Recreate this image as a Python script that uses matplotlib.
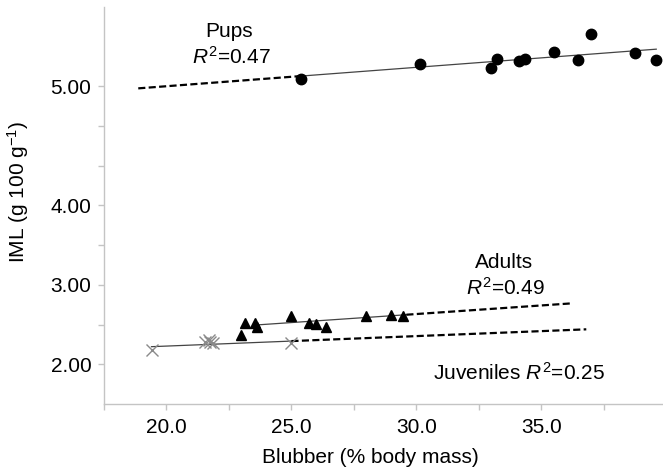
import matplotlib
matplotlib.use("Agg")
import matplotlib.pyplot as plt
import numpy as np

plt.rcParams['font.family'] = ['Liberation Sans', 'DejaVu Sans']
plt.rcParams['mathtext.fontset'] = 'custom'
plt.rcParams['mathtext.rm'] = 'Liberation Sans'
plt.rcParams['mathtext.it'] = 'Liberation Sans:italic'

# blubber (% body mass) vs IML (g 100 g-1)
pups_x = [25.37, 30.13, 33.0, 33.24, 34.1, 34.33, 35.49, 36.47, 37.0, 38.73, 39.6]
pups_y = [5.06, 5.186, 5.157, 5.23, 5.213, 5.23, 5.29, 5.217, 5.44, 5.283, 5.223]

adults_x = [23.0, 23.13, 23.53, 23.63, 25.0, 25.7, 26.0, 26.37, 27.97, 28.97, 29.47]
adults_y = [2.369, 2.516, 2.516, 2.47, 2.61, 2.52, 2.51, 2.47, 2.61, 2.62, 2.61]

juv_x = [19.4, 21.55, 21.7, 21.85, 21.75, 25.0]
juv_y = [2.18, 2.28, 2.30, 2.27, 2.285, 2.265]

# regression lines: (start, end of data range, end of extrapolation)
pups_fit_x = [18.87, 25.37, 39.6]
pups_fit_y = [4.983, 5.086, 5.312]
adults_fit_x = [23.6, 29.6, 36.26]
adults_fit_y = [2.495, 2.624, 2.768]
juv_fit_x = [19.4, 25.0, 36.8]
juv_fit_y = [2.2215, 2.292, 2.44]

# the printed y axis is not linear: 2->3->4 take two tick steps each, 4->5 three
knots_y = [0.0, 4.0, 10.0]
knots_u = [-4.0, 4.0, 22.0]


def fwd(y):
    return np.interp(y, knots_y, knots_u, left=np.nan, right=np.nan)


def inv(u):
    return np.interp(u, knots_u, knots_y, left=np.nan, right=np.nan)


fig = plt.figure(figsize=(6.63, 4.71), dpi=100)
ax = fig.add_axes([0.1569, 0.1423, 0.8431, 0.843])
ax.set_yscale('function', functions=(fwd, inv))

ax.plot(pups_x, pups_y, 'o', color='black', markersize=7.5, clip_on=False, zorder=3)
ax.plot(adults_x, adults_y, '^', color='black', markersize=7.5, zorder=3)
ax.plot(juv_x, juv_y, 'x', color='#8a8a8a', markersize=8, markeredgewidth=1.0, zorder=3)

dash = (0, (3.2, 1.5))
solid_kw = dict(color='#444444', lw=0.9, zorder=2)
dash_kw = dict(color='black', lw=1.6, linestyle=dash, zorder=2)

# pups: extrapolated to the left, the others to the right
ax.plot(pups_fit_x[:2], pups_fit_y[:2], **dash_kw)
ax.plot(pups_fit_x[1:], pups_fit_y[1:], **solid_kw)
ax.plot(adults_fit_x[:2], adults_fit_y[:2], **solid_kw)
ax.plot(adults_fit_x[1:], adults_fit_y[1:], **dash_kw)
ax.plot(juv_fit_x[:2], juv_fit_y[:2], **solid_kw)
ax.plot(juv_fit_x[1:], juv_fit_y[1:], **dash_kw)

ax.set_xlim(17.5, 39.87)
ax.set_ylim(1.5, 5 + 2 / 3)

ax.set_xticks([20, 25, 30, 35])
ax.set_xticklabels(['20.0', '25.0', '30.0', '35.0'])
ax.set_xticks([17.5, 22.5, 27.5, 32.5, 37.5], minor=True)
ax.set_yticks([2, 3, 4, 5])
ax.set_yticklabels(['2.00', '3.00', '4.00', '5.00'])
ax.set_yticks([2.5, 3.5, 4 + 1 / 3, 4 + 2 / 3], minor=True)

for s in ['top', 'right']:
    ax.spines[s].set_visible(False)
for s in ['left', 'bottom']:
    ax.spines[s].set_color('#c4c4c4')
    ax.spines[s].set_linewidth(1.0)
ax.tick_params(which='both', length=4, width=1.0, color='#c4c4c4', labelsize=15)
ax.tick_params(axis='y', which='both', pad=5)
ax.tick_params(axis='x', which='both', pad=6)

ax.set_xlabel('Blubber (% body mass)', fontsize=15)
ax.set_ylabel(r'IML (g 100 g$^{-1}$)', fontsize=15)
ax.xaxis.set_label_coords(0.477, -0.112)
ax.yaxis.set_label_coords(-0.13, 0.534)

ax.text(22.5, 5.46, 'Pups', fontsize=15, ha='center', va='center')
ax.text(22.6, 5.25, r'$R^2$=0.47', fontsize=15, ha='center', va='center')
ax.text(33.49, 3.285, 'Adults', fontsize=15, ha='center', va='center')
ax.text(33.56, 2.957, r'$R^2$=0.49', fontsize=15, ha='center', va='center')
ax.text(34.11, 1.894, r'Juveniles $R^2$=0.25', fontsize=15, ha='center', va='center')

fig.savefig('out.png', dpi=100)
